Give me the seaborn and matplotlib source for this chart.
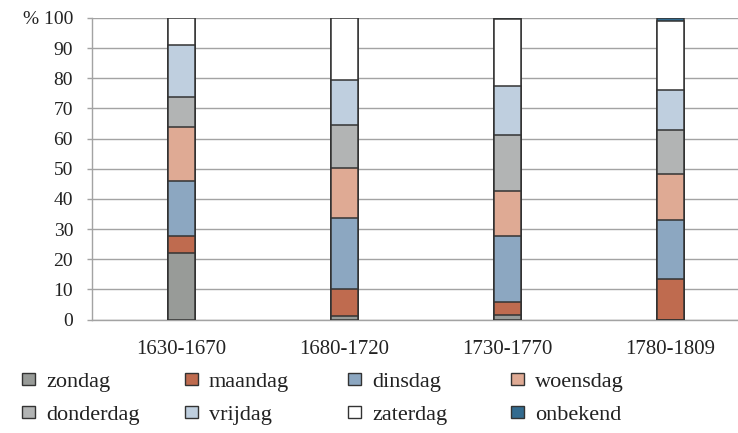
import numpy as np
import pandas as pd
import matplotlib
matplotlib.use("Agg")
import matplotlib.pyplot as plt
import seaborn as sns
from matplotlib.patches import Patch

# data (percentages per period)
periods = ["1630-1670", "1680-1720", "1730-1770", "1780-1809"]
days = ["zondag", "maandag", "dinsdag", "woensdag",
        "donderdag", "vrijdag", "zaterdag", "onbekend"]
zondag = [22.0, 1.3, 1.4, 0.0]
maandag = [5.8, 8.9, 4.4, 13.3]
dinsdag = [18.2, 23.5, 22.0, 19.6]
woensdag = [17.7, 16.7, 14.7, 15.5]
donderdag = [10.1, 14.2, 18.7, 14.3]
vrijdag = [17.3, 14.7, 16.2, 13.4]
zaterdag = [8.9, 20.7, 22.2, 23.0]
onbekend = [0.0, 0.0, 0.4, 0.9]
colors = ["#989b98", "#bf6b4f", "#8ca7c1", "#dfaa94",
          "#b2b4b4", "#bfcfdf", "#ffffff", "#336b8f"]

sns.set_style("white")
plt.rcParams["font.family"] = ["Liberation Serif", "DejaVu Serif"]
txt = "#222222"
grid = "#a3a3a3"
edge = "#333333"

values = np.array([zondag, maandag, dinsdag, woensdag,
                   donderdag, vrijdag, zaterdag, onbekend])
cum = np.cumsum(values, axis=0)

fig = plt.figure(figsize=(7.38, 4.33), dpi=100)
ax = fig.add_axes([92 / 738, 1 - 319.5 / 433, 1 - 92 / 738, (319.5 - 18) / 433])

# stacked bars: draw cumulative totals from the top segment downwards
for i in range(len(days) - 1, -1, -1):
    df = pd.DataFrame({"periode": periods, "pct": cum[i]})
    sns.barplot(data=df, x="periode", y="pct", color=colors[i], saturation=1,
                width=0.168, edgecolor=edge, linewidth=1.1, ax=ax, zorder=3)

ax.set_xlim(-0.55, 3.415)
ax.set_ylim(0, 100)
ax.set_xlabel("")
ax.set_ylabel("")

yt = list(range(0, 101, 10))
ax.set_yticks(yt)
ax.set_yticklabels([str(v) for v in yt[:-1]] + ["% 100"])
ax.yaxis.grid(True, color=grid, linewidth=1.0, zorder=0)
ax.set_axisbelow(True)

ax.set_xticks(range(len(periods)))
ax.set_xticklabels(periods)
ax.set_xticks([0.45, 1.45, 2.45], minor=True)
ax.tick_params(axis="x", which="major", length=0, pad=14.5, labelsize=15, labelcolor=txt)
ax.tick_params(axis="x", which="minor", length=3.5, width=1.0, color=grid, direction="out")
ax.tick_params(axis="y", length=3.6, width=1.0, color=grid, direction="out", pad=10,
               labelsize=14, labelcolor=txt, left=True)

for s in ["top", "right"]:
    ax.spines[s].set_visible(False)
for s in ["left", "bottom"]:
    ax.spines[s].set_color(grid)
    ax.spines[s].set_linewidth(1.0)

# legend: four columns of two entries each
col_x = [22, 185, 348, 511]
for c in range(4):
    idx = [c, c + 4]
    handles = [Patch(facecolor=colors[k], edgecolor=edge, linewidth=1.0) for k in idx]
    fig.legend(handles, [days[k] for k in idx], loc="upper left",
               bbox_to_anchor=(col_x[c] / 738, 1 - 373 / 433),
               frameon=False, fontsize=16, labelcolor=txt,
               borderpad=0, borderaxespad=0, handlelength=0.58, handleheight=0.45,
               handletextpad=0.5, labelspacing=0.62)

fig.savefig("out.png", dpi=100)
